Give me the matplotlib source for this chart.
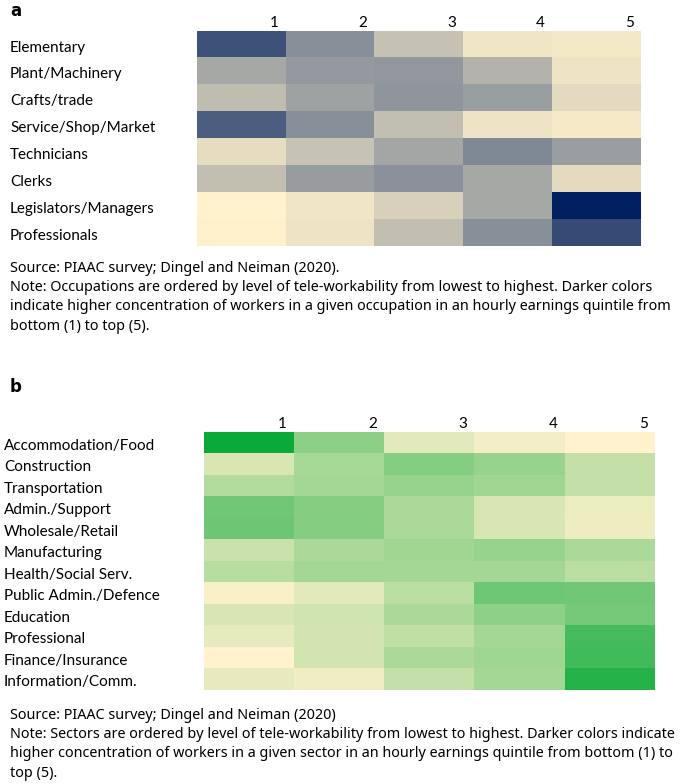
import numpy as np
import matplotlib.pyplot as plt
from matplotlib.colors import LinearSegmentedColormap

occupations = ['Elementary', 'Plant/Machinery', 'Crafts/trade', 'Service/Shop/Market',
               'Technicians', 'Clerks', 'Legislators/Managers', 'Professionals']
sectors = ['Accommodation/Food', 'Construction', 'Transportation', 'Admin./Support',
           'Wholesale/Retail', 'Manufacturing', 'Health/Social Serv.', 'Public Admin./Defence',
           'Education', 'Professional', 'Finance/Insurance', 'Information/Comm.']
quintiles = ['1', '2', '3', '4', '5']

occ_conc = [
    [76, 47, 23, 6, 5],
    [35, 42, 43, 30, 7],
    [25, 38, 44, 40, 11],
    [70, 47, 24, 7, 4],
    [10, 22, 36, 50, 40],
    [24, 41, 46, 35, 11],
    [0, 6, 16, 35, 100],
    [1, 7, 24, 47, 79],
]
sec_conc = [
    [100, 47, 12, 5, 0],
    [16, 36, 50, 42, 24],
    [31, 37, 42, 39, 24],
    [58, 50, 34, 16, 8],
    [60, 50, 34, 16, 7],
    [22, 34, 39, 42, 34],
    [29, 37, 37, 37, 28],
    [3, 12, 28, 59, 58],
    [16, 19, 34, 46, 56],
    [10, 18, 26, 37, 75],
    [0, 18, 34, 39, 77],
    [10, 6, 24, 37, 89],
]

src_a = 'Source: PIAAC survey; Dingel and Neiman (2020).'
note_a = ('Note: Occupations are ordered by level of tele-workability from lowest to highest. Darker colors\n'
          'indicate higher concentration of workers in a given occupation in an hourly earnings quintile from\n'
          'bottom (1) to top (5).')
src_b = 'Source: PIAAC survey; Dingel and Neiman (2020)'
note_b = ('Note: Sectors are ordered by level of tele-workability from lowest to highest. Darker colors indicate\n'
          'higher concentration of workers in a given sector in an hourly earnings quintile from bottom (1) to\n'
          'top (5).')

W, H = 690, 784
fig = plt.figure(figsize=(W / 100, H / 100), dpi=100)

cmap_a = LinearSegmentedColormap.from_list('navy', ['#FFF2CC', '#002060'])
cmap_b = LinearSegmentedColormap.from_list('green', ['#FFF2CC', '#0AAA38'])


def px_axes(x0, y0, x1, y1):
    return fig.add_axes([x0 / W, 1 - y1 / H, (x1 - x0) / W, (y1 - y0) / H])


def heat(ax, data, rows, cmap, label_x, ax_x0):
    ax.imshow(np.array(data), cmap=cmap, vmin=0, vmax=100, aspect='auto',
              interpolation='nearest')
    ax.set_xticks(np.arange(len(quintiles)) + 0.42)
    ax.set_xticklabels(quintiles, ha='right', fontsize=11, family='Lato')
    ax.xaxis.tick_top()
    ax.set_yticks(np.arange(len(rows)) + 0.06)
    ax.set_yticklabels(rows, ha='left', fontsize=11, family='Lato')
    ax.tick_params(axis='both', length=0)
    ax.tick_params(axis='x', pad=1)
    ax.tick_params(axis='y', pad=(ax_x0 - label_x) * 0.72)
    for s in ax.spines.values():
        s.set_visible(False)


ax_a = px_axes(197, 31, 641, 246)
heat(ax_a, occ_conc, occupations, cmap_a, 10, 197)
ax_b = px_axes(204, 432, 655, 690)
heat(ax_b, sec_conc, sectors, cmap_b, 4, 204)

fig.text(10 / W, 1 - 16 / H, 'a', fontsize=12, fontweight='bold', va='baseline')
fig.text(10 / W, 1 - 392 / H, 'b', fontsize=12, fontweight='bold', va='baseline')

txt = dict(fontsize=10.35, family='Noto Sans', va='top', linespacing=1.4)
fig.text(10 / W, 1 - 261 / H, src_a, **txt)
fig.text(10 / W, 1 - 280 / H, note_a, **txt)
fig.text(10 / W, 1 - 708 / H, src_b, **txt)
fig.text(10 / W, 1 - 727 / H, note_b, **txt)

fig.savefig('out.png', dpi=100)
